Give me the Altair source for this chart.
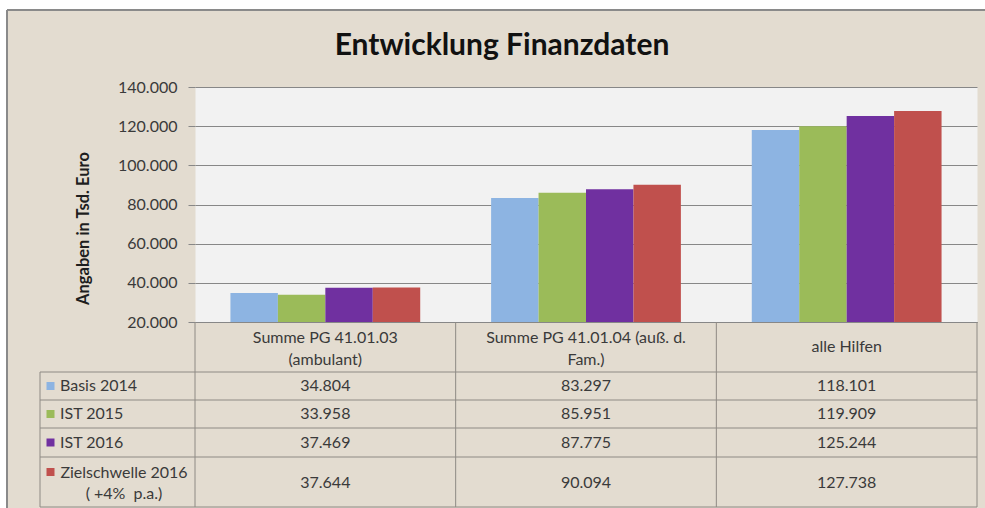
import altair as alt
import pandas as pd

# ---------------- data ----------------
categories = [
    "Summe PG 41.01.03 (ambulant)",
    "Summe PG 41.01.04 (auß. d. Fam.)",
    "alle Hilfen",
]
header_labels = [
    "Summe PG 41.01.03\n(ambulant)",
    "Summe PG 41.01.04 (auß. d.\nFam.)",
    "alle Hilfen",
]
series = ["Basis 2014", "IST 2015", "IST 2016", "Zielschwelle 2016 ( +4%  p.a.)"]
series_labels = ["Basis 2014", "IST 2015", "IST 2016", "Zielschwelle 2016\n( +4%\u00a0 p.a.)"]
basis_2014 = [34804, 83297, 118101]
ist_2015 = [33958, 85951, 119909]
ist_2016 = [37469, 87775, 125244]
ziel_2016 = [37644, 90094, 127738]
y_ticks = [20000, 40000, 60000, 80000, 100000, 120000, 140000]
colors = ["#8DB4E2", "#9BBB59", "#7030A0", "#C0504D"]

rows = []
for s, vals in zip(series, [basis_2014, ist_2015, ist_2016, ziel_2016]):
    for c, v in zip(categories, vals):
        rows.append({"category": c, "series": s, "value": v,
                     "label": f"{v:,}".replace(",", ".")})
df = pd.DataFrame(rows)
cat_df = pd.DataFrame({"category": categories, "header": header_labels})
ser_df = pd.DataFrame({"series": series, "slabel": series_labels})
one = pd.DataFrame({"k": [0]})

# ---------------- layout ----------------
W, H = 782, 235
TB = 186
GRID = "#878787"
LINE = "#8E8A84"
TXT = "#3A3A3A"
FONT = "Lato"

x_scale = alt.Scale(domain=categories, paddingInner=0, paddingOuter=0)
x_axis = alt.Axis(labels=False, ticks=False, title=None, grid=False,
                  domainColor=GRID, domainWidth=1)
color_scale = alt.Scale(domain=series, range=colors)


def xenc(**kw):
    return alt.X("category:N", scale=x_scale, sort=categories, axis=x_axis, **kw)


bars = alt.Chart(df).mark_bar().encode(
    x=xenc(),
    xOffset=alt.XOffset("series:N", sort=series,
                        scale=alt.Scale(domain=series, paddingInner=0, paddingOuter=0.747)),
    y=alt.Y("value:Q",
            scale=alt.Scale(domain=[20000, 140000], zero=False, nice=False),
            axis=alt.Axis(values=y_ticks,
                          labelExpr="replace(format(datum.value, ',d'), ',', '.')",
                          labelFont=FONT, labelFontSize=16, labelColor=TXT,
                          labelPadding=11, tickSize=7, tickColor=GRID,
                          domain=False, grid=True, gridColor=GRID, gridWidth=1,
                          title="Angaben in Tsd. Euro", titleFont=FONT,
                          titleFontSize=16.5, titleFontWeight="bold", titleColor="#1E1E1E",
                          titleX=-112, titleY=141, titleAngle=270,
                          titleAlign="center", titleBaseline="middle")),
    y2=alt.datum(20000),
    color=alt.Color("series:N", scale=color_scale, legend=None),
)

layers = []

# decorative frame (outside the plot area)
layers.append(alt.Chart(one).mark_rect(fill="white").encode(
    x=alt.value(-195), x2=alt.value(W + 8), y=alt.value(-87), y2=alt.value(-77)))
layers.append(alt.Chart(one).mark_rect(fill="white").encode(
    x=alt.value(-195), x2=alt.value(-188), y=alt.value(-87), y2=alt.value(H + TB)))
layers.append(alt.Chart(one).mark_rule(color="#8A8A8A", strokeWidth=2).encode(
    x=alt.value(-188), x2=alt.value(W + 8), y=alt.value(-77)))
layers.append(alt.Chart(one).mark_rule(color="#8A8A8A", strokeWidth=2).encode(
    x=alt.value(-188), y=alt.value(-77), y2=alt.value(H + TB)))

# title
layers.append(alt.Chart(one).mark_text(
    text="Entwicklung Finanzdaten", font=FONT, fontSize=30, fontWeight="bold",
    color="#111111", align="center", baseline="alphabetic").encode(
    x=alt.value(307), y=alt.value(-32)))

layers.append(bars)

# data table grid lines
layers.append(alt.Chart(cat_df).mark_rule(color=LINE, strokeWidth=1).encode(
    x=xenc(bandPosition=0), y=alt.value(H), y2=alt.value(H + TB - 1)))
layers.append(alt.Chart(one).mark_rule(color=LINE, strokeWidth=1).encode(
    x=alt.value(W), y=alt.value(H), y2=alt.value(H + TB - 1)))
layers.append(alt.Chart(one).mark_rule(color=LINE, strokeWidth=1).encode(
    x=alt.value(-155), y=alt.value(285), y2=alt.value(H + TB - 1)))
for yy in [285, 313, 341, 370, 420]:
    layers.append(alt.Chart(one).mark_rule(color=LINE, strokeWidth=1).encode(
        x=alt.value(-155), x2=alt.value(W), y=alt.value(yy)))

# header row (category names): two-line labels start higher than one-line labels
layers.append(alt.Chart(cat_df).transform_filter(
    "indexof(datum.header, '\\n') >= 0").mark_text(
    font=FONT, fontSize=16, color=TXT, lineBreak="\n", lineHeight=22,
    align="center", baseline="middle").encode(
    x=xenc(), y=alt.value(250.5), text="header:N"))
layers.append(alt.Chart(cat_df).transform_filter(
    "indexof(datum.header, '\\n') < 0").mark_text(
    font=FONT, fontSize=16, color=TXT,
    align="center", baseline="middle").encode(
    x=xenc(), y=alt.value(260), text="header:N"))

row_y = [299, 327, 355.5, 395.5]
for i, s in enumerate(series):
    # values
    layers.append(alt.Chart(df).transform_filter(alt.datum.series == s).mark_text(
        font=FONT, fontSize=16, color=TXT, align="center", baseline="middle").encode(
        x=xenc(), y=alt.value(row_y[i]), text="label:N"))
    # legend key
    sq_y = row_y[i] if i < 3 else 385
    layers.append(alt.Chart(ser_df).transform_filter(alt.datum.series == s).mark_square(
        size=64, opacity=1).encode(
        x=alt.value(-144.5), y=alt.value(sq_y),
        color=alt.Color("series:N", scale=color_scale, legend=None)))
    if i < 3:
        layers.append(alt.Chart(ser_df).transform_filter(alt.datum.series == s).mark_text(
            font=FONT, fontSize=16, color=TXT, align="left", baseline="middle").encode(
            x=alt.value(-135), y=alt.value(row_y[i]), text="slabel:N"))
    else:
        layers.append(alt.Chart(ser_df).transform_filter(alt.datum.series == s).mark_text(
            font=FONT, fontSize=16, color=TXT, align="center", baseline="middle",
            lineBreak="\n", lineHeight=21).encode(
            x=alt.value(-71), y=alt.value(385.5), text="slabel:N"))

chart = alt.layer(*layers).properties(
    width=W, height=H,
    autosize=alt.AutoSizeParams(type="none"),
    padding={"left": 195, "top": 87, "right": 8, "bottom": TB},
    background="#E3DCD0",
).configure_view(fill="#F2F2F2", stroke="transparent")

chart.save("out.html", embed_options={"renderer": "svg", "actions": False})
